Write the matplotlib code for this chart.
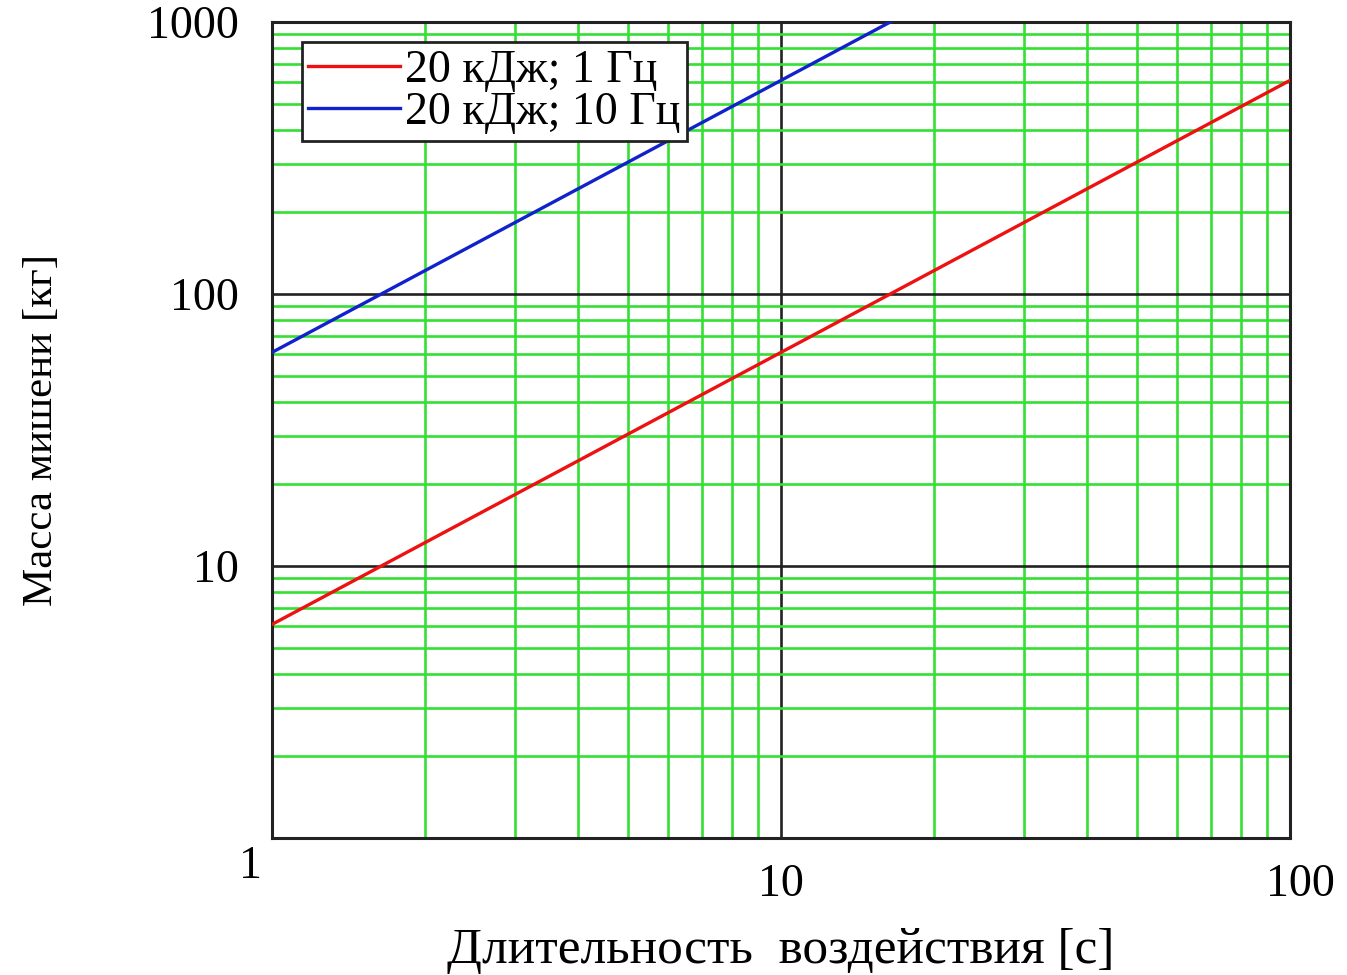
import matplotlib.pyplot as plt
import matplotlib.transforms as mtransforms

# data (straight lines on log-log axes)
duration = [1, 2, 5, 10, 20, 50, 100]
mass_1hz = [6.1, 12.2, 30.5, 61, 122, 305, 610]
mass_10hz = [61, 122, 305, 610, 1220, 3050, 6100]
labels = ["20 кДж; 1 Гц", "20 кДж; 10 Гц"]

plt.rcParams['font.family'] = ['Liberation Serif', 'DejaVu Serif']

fig = plt.figure(figsize=(13.47, 9.75), dpi=100)
ax = fig.add_axes([272 / 1347, 1 - 838 / 975, (1290 - 272) / 1347, (838 - 22) / 975])

ax.plot(duration, mass_1hz, color='#ee1111', lw=2.4, label=labels[0], zorder=3)
ax.plot(duration, mass_10hz, color='#1122cc', lw=2.4, label=labels[1], zorder=3)

ax.set_xscale('log')
ax.set_yscale('log')
ax.set_xlim(1, 100)
ax.set_ylim(1, 1000)

ax.grid(which='minor', color='#33e033', lw=1.9)
ax.grid(which='major', color='#222222', lw=1.9)
ax.set_axisbelow(True)

ax.set_xticks([1, 10, 100])
ax.set_xticklabels(["1", "10", "100"])
ax.set_yticks([10, 100, 1000])
ax.set_yticklabels(["10", "100", "1000"])
ax.tick_params(which='both', length=0)
ax.tick_params(axis='x', labelsize=33, pad=18)
ax.tick_params(axis='y', labelsize=33, pad=24)

# the "1" at the corner sits up and to the left, "100" a bit to the right
lbls = ax.get_xticklabels()
lbls[0].set_transform(lbls[0].get_transform() +
                      mtransforms.ScaledTranslation(-0.22, 0.18, fig.dpi_scale_trans))
lbls[2].set_transform(lbls[2].get_transform() +
                      mtransforms.ScaledTranslation(0.1, 0, fig.dpi_scale_trans))

for s in ax.spines.values():
    s.set_linewidth(2.2)
    s.set_color('#222222')

ax.set_xlabel("Длительность  воздействия [с]", fontsize=37, va='center')
ax.xaxis.set_label_coords(0.5, -0.138)
ax.set_ylabel("Масса мишени [кг]", fontsize=31, labelpad=62)

leg = ax.legend(loc='upper left', bbox_to_anchor=(0.029, 0.975), borderaxespad=0,
                fontsize=33, handlelength=2.0, handletextpad=0.1, borderpad=0.15,
                labelspacing=0.0, fancybox=False, framealpha=1)
leg.get_frame().set_edgecolor('#222222')
leg.get_frame().set_linewidth(2)

fig.savefig("out.png", dpi=100)
